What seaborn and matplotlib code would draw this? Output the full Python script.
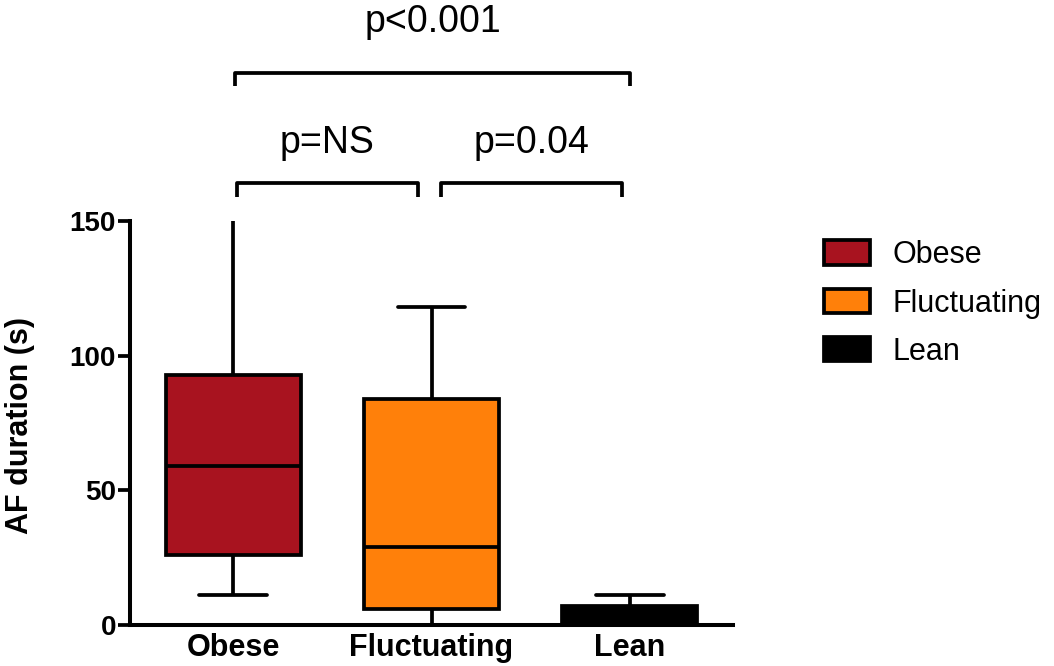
import matplotlib
matplotlib.use("Agg")
import matplotlib.pyplot as plt
import seaborn as sns
import pandas as pd
from matplotlib.patches import Patch

groups = ["Obese", "Fluctuating", "Lean"]
# five-number summaries: min, Q1, median, Q3, max (Obese max runs off the top of the axis)
obese = [11, 26, 59, 93, 165]
fluctuating = [0, 6, 29, 84, 118]
lean = [0, 0, 3, 7, 11]
colors = ["#A8131F", "#FF800A", "#000000"]

ytick_vals = [0, 50, 100, 150]

brackets = [  # (x_start, x_end, y_top, label, label_y)
    (0.02, 0.93, 164, "p=NS", 179),
    (1.05, 1.96, 164, "p=0.04", 179),
    (0.01, 2.0, 205, "p<0.001", 224),
]

sns.set_theme(style="ticks")
plt.rcParams['font.family'] = ['Liberation Sans', 'DejaVu Sans']
plt.rcParams['text.color'] = 'black'
plt.rcParams['xtick.color'] = 'black'
plt.rcParams['ytick.color'] = 'black'
plt.rcParams['axes.edgecolor'] = 'black'
plt.rcParams['axes.labelcolor'] = 'black'

df = pd.DataFrame({
    "group": [g for g, v in zip(groups, [obese, fluctuating, lean]) for _ in v],
    "value": obese + fluctuating + lean,
})

fig = plt.figure(figsize=(10.54, 6.66), dpi=100)
ax = fig.add_axes([130/1054, 1-625/666, (733-130)/1054, (625-221)/666])

lw = 2.7
sns.boxplot(data=df, x="group", y="value", hue="group", palette=colors,
            order=groups, hue_order=groups, whis=(0, 100), width=0.68,
            saturation=1, linewidth=lw, linecolor="black", legend=False, ax=ax,
            dodge=False,
            capprops=dict(linewidth=lw), whiskerprops=dict(linewidth=lw),
            medianprops=dict(linewidth=lw, color="black"),
            boxprops=dict(linewidth=lw, edgecolor="black"))

ax.set_xlim(-0.52, 2.52)
ax.set_ylim(0, 150)
ax.set_yticks(ytick_vals)
ax.set_yticklabels([str(v) for v in ytick_vals], fontsize=20, fontweight="bold")
ax.set_xticks(range(3))
ax.set_xticklabels(groups, fontsize=22, fontweight="bold")
ax.tick_params(axis="y", length=9, width=lw, pad=1)
ax.tick_params(axis="x", length=0, pad=6)
ax.set_xlabel("")
ax.set_ylabel("")
for s in ["top", "right"]:
    ax.spines[s].set_visible(False)
for s in ["left", "bottom"]:
    ax.spines[s].set_linewidth(lw + 0.2)

fig.text(20/1054, 1-425/666, "AF duration (s)", rotation=90, ha="center", va="center",
         fontsize=22, fontweight="bold")

tick_h = 5
for x0, x1, yt, lab, ly in brackets:
    ax.plot([x0, x0, x1, x1], [yt - tick_h, yt, yt, yt - tick_h], color="black",
            lw=lw, clip_on=False, solid_capstyle="butt")
    ax.text((x0 + x1) / 2, ly, lab, ha="center", va="center", fontsize=27)

handles = [Patch(facecolor=c, edgecolor="black", linewidth=lw, label=g)
           for g, c in zip(groups, colors)]
fig.legend(handles=handles, loc="upper left", bbox_to_anchor=(812/1054, 1-228/666),
           frameon=False, fontsize=22, handlelength=1.5, handleheight=0.85,
           labelspacing=0.6, handletextpad=0.75, borderaxespad=0)

fig.savefig("out.png", dpi=100)
